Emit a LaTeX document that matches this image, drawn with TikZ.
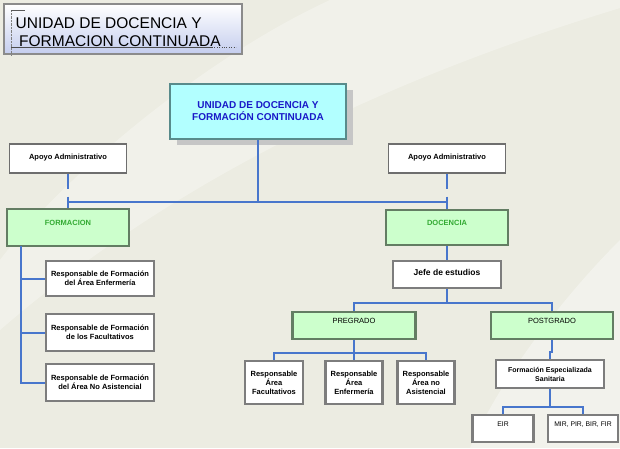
\documentclass[tikz,border=0pt]{standalone}
\usepackage{xcolor}
\usepackage{fontspec}
\setmainfont{Liberation Sans}
\usepackage{tikz}
\usetikzlibrary{calc}
\usetikzlibrary{shadows}
\definecolor{fondo}{RGB}{236,236,226}
\definecolor{linea}{RGB}{72,118,204}
\definecolor{verde}{RGB}{204,255,204}
\definecolor{verdetxt}{RGB}{51,170,51}
\definecolor{cian}{RGB}{178,255,255}
\definecolor{azultxt}{RGB}{25,25,200}
\definecolor{borde}{RGB}{110,110,110}
\definecolor{lavanda}{RGB}{196,205,238}
\tikzstyle{con} = [draw=linea, line width=2pt]
\tikzstyle{apoyo} = [draw=borde, line width=1.2pt, fill=white, inner sep=0, font=\fontsize{7.5}{9}\selectfont\bfseries, text depth=4pt]
\tikzstyle{wbox} = [draw=borde!90, line width=2.4pt, fill=white, inner sep=0, align=center, font=\fontsize{7.5}{9}\selectfont\bfseries]
\tikzstyle{gbox} = [draw=borde!90!green, line width=2.4pt, fill=verde, inner sep=0, text depth=9pt, font=\fontsize{7.5}{9}\selectfont]
\tikzstyle{sbox} = [wbox, font=\fontsize{6.8}{9}\selectfont, text depth=9pt]

\begin{document}
\begin{tikzpicture}[x=1pt, y=-1pt]
\useasboundingbox (0,0) rectangle (620,448);
\fill [fondo] (0,0) rectangle (620,448);
% fondo claro
\fill [white, opacity=0.3] (0,330) .. controls (150,200) and (350,90) .. (620,8) -- (620,0) -- (330,0) .. controls (200,60) and (60,180) .. (0,260) -- cycle;
\fill [white, opacity=0.35] (620,240) .. controls (560,300) and (500,380) .. (470,448) -- (620,448) -- cycle;

% titulo
\node [draw=borde!80, line width=1.2pt, top color=white, bottom color=lavanda, minimum width=238pt, minimum height=50pt, inner sep=0] (tit) at (123,29) {};
\draw [gray, densely dotted] (11,10) -- (11,56);
\draw [gray!70!black] (11,10.5) -- (25,10.5);
\draw [gray!60!black] (11,47) -- (212,47);
\draw [gray!60!black, dotted] (212,47) -- (236,47);
\node [anchor=base west, inner sep=0, font=\fontsize{15.5}{18}\selectfont] (tit1) at (15.5,28.3) {UNIDAD DE DOCENCIA Y};
\node [anchor=base west, inner sep=0, font=\fontsize{15.5}{18}\selectfont] (tit2) at (19,46.7) {FORMACION CONTINUADA};

% unidad
\node [draw=borde!80!cyan, line width=2.4pt, fill=cian, minimum width=176pt, minimum height=55pt, inner sep=0, align=center, text=azultxt, font=\fontsize{10}{12}\selectfont\bfseries, drop shadow={shadow xshift=7pt, shadow yshift=-6pt, fill=gray!45, opacity=1}] (udfc) at (258,111.5) {UNIDAD DE DOCENCIA Y\\FORMACIÓN CONTINUADA};

\node [apoyo, minimum width=117pt, minimum height=29pt] (apoyoF) at (68,158.5) {Apoyo Administrativo};
\node [apoyo, minimum width=117pt, minimum height=29pt] (apoyoD) at (447,158.5) {Apoyo Administrativo};

\node [gbox, minimum width=122pt, minimum height=37pt, text=verdetxt, font=\fontsize{7.5}{9}\selectfont\bfseries] (form) at (68,227.5) {FORMACION};
\node [gbox, minimum width=122pt, minimum height=35pt, text=verdetxt, font=\fontsize{7.5}{9}\selectfont\bfseries] (doc) at (447,227.5) {DOCENCIA};

\coordinate (busF) at (68,202);
\coordinate (busD) at (447,202);
\draw [con] (udfc.south) -- (udfc.south |- busF);
\draw [con] (busF) -- (busD);
\draw [con] (busF) -- (form.north);
\draw [con] (busD) -- (doc.north);
\draw [con, dash pattern=on 15pt off 8pt] (apoyoF.south) -- (busF);
\draw [con, dash pattern=on 15pt off 8pt] (apoyoD.south) -- (busD);

% formacion
\node [wbox, minimum width=108pt, minimum height=35pt] (rfEnf) at (100,278.5) {Responsable de Formación\\del Área Enfermería};
\node [wbox, minimum width=108pt, minimum height=37pt] (rfFac) at (100,332.5) {Responsable de Formación\\de los Facultativos};
\node [wbox, minimum width=108pt, minimum height=37pt] (rfNoA) at (100,382.5) {Responsable de Formación\\del Área No Asistencial};
\coordinate (espina) at (21,246);
\draw [con] (espina) |- (rfNoA.west);
\draw [con] (rfEnf.west) -- (rfEnf.west -| espina);
\draw [con] (rfFac.west) -- (rfFac.west -| espina);

% docencia
\node [wbox, minimum width=108pt, minimum height=27pt, font=\fontsize{8.5}{10}\selectfont\bfseries, text depth=5pt] (jefe) at (447,274.5) {Jefe de estudios};
\draw [con] (doc.south) -- (jefe.north);
\node [gbox, minimum width=123pt, minimum height=27pt] (pre) at (354,325.5) {PREGRADO};
\node [gbox, minimum width=122pt, minimum height=27pt] (post) at (552,325.5) {POSTGRADO};
\coordinate (busJ) at (447,303);
\draw [con] (jefe.south) -- (busJ);
\draw [con] (pre.north) |- (busJ) -| (post.north);

\node [wbox, minimum width=58pt, minimum height=43pt] (raFac) at (274,382.5) {Responsable\\Área\\Facultativos};
\node [wbox, minimum width=57pt, minimum height=43pt] (raEnf) at (354,382.5) {Responsable\\Área\\Enfermería};
\node [wbox, minimum width=57pt, minimum height=43pt] (raNoA) at (426,382.5) {Responsable\\Área no\\Asistencial};
\coordinate (busP) at (354,353);
\draw [con] (pre.south) -- (raEnf.north);
\draw [con] (raFac.north) |- (busP) -| (raNoA.north);

\node [wbox, minimum width=108pt, minimum height=28pt, font=\fontsize{7}{9}\selectfont\bfseries] (fes) at (550,374) {Formación Especializada\\Sanitaria};
\draw [con] (post.south) -- ++(0,12) -| (fes.north);
\node [sbox, minimum width=61pt, minimum height=27pt] (eir) at (503,428.5) {EIR};
\node [sbox, minimum width=70pt, minimum height=27pt] (mir) at (583,428.5) {MIR, PIR, BIR, FIR};
\coordinate (busS) at (550,407);
\draw [con] (fes.south) -- (busS);
\draw [con] (eir.north) |- (busS) -| (mir.north);
\end{tikzpicture}
\end{document}
